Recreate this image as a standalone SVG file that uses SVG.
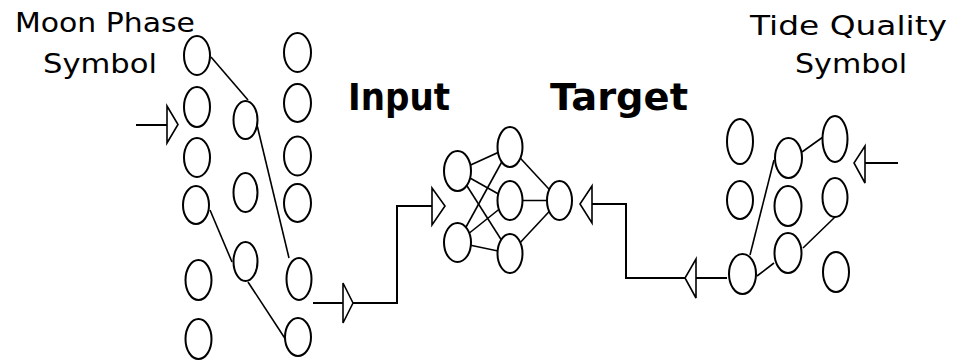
<svg xmlns="http://www.w3.org/2000/svg" width="954" height="362" viewBox="0 0 954 362">
<style>
.n{fill:#fff;stroke:#000;stroke-width:2}
.c{fill:none;stroke:#000;stroke-width:1.6}
.w{fill:none;stroke:#000;stroke-width:2}
.t{fill:#fff;stroke:#000;stroke-width:1.6}
.lbl{font-family:"DejaVu Sans","Liberation Sans",sans-serif;font-size:27px;fill:#000}
.big{font-family:"DejaVu Sans","Liberation Sans",sans-serif;font-size:37px;font-weight:bold;fill:#000}
</style>
<rect width="954" height="362" fill="#fff"/>
<g id="labels">
<text class="lbl" x="15" y="32" textLength="180" lengthAdjust="spacingAndGlyphs">Moon Phase</text>
<text class="lbl" x="43" y="73" textLength="114" lengthAdjust="spacingAndGlyphs">Symbol</text>
<text class="lbl" x="750" y="35" textLength="197" lengthAdjust="spacingAndGlyphs">Tide Quality</text>
<text class="lbl" x="795" y="73" textLength="112" lengthAdjust="spacingAndGlyphs">Symbol</text>
<text class="big" x="348" y="110" textLength="102" lengthAdjust="spacingAndGlyphs">Input</text>
<text class="big" x="550" y="110" textLength="138" lengthAdjust="spacingAndGlyphs">Target</text>
</g>
<g id="connectors">
<line class="c" x1="211" y1="57" x2="248" y2="100"/>
<line class="c" x1="257" y1="125" x2="289" y2="258"/>
<line class="c" x1="210" y1="210" x2="232" y2="262"/>
<line class="c" x1="248" y1="282" x2="286" y2="340"/>
<line class="c" x1="457.5" y1="171" x2="510" y2="147"/>
<line class="c" x1="457.5" y1="171" x2="510" y2="200.5"/>
<line class="c" x1="457.5" y1="171" x2="510" y2="253.5"/>
<line class="c" x1="457.5" y1="242.5" x2="510" y2="147"/>
<line class="c" x1="457.5" y1="242.5" x2="510" y2="200.5"/>
<line class="c" x1="457.5" y1="242.5" x2="510" y2="253.5"/>
<line class="c" x1="510" y1="147" x2="559.5" y2="200.5"/>
<line class="c" x1="510" y1="200.5" x2="559.5" y2="200.5"/>
<line class="c" x1="510" y1="253.5" x2="559.5" y2="200.5"/>
<line class="c" x1="802" y1="152" x2="823" y2="137"/>
<line class="c" x1="750" y1="255" x2="774" y2="160"/>
<line class="c" x1="757" y1="276" x2="774" y2="263"/>
<line class="c" x1="803" y1="248" x2="835" y2="217"/>
<polyline class="w" points="136,125 167,125"/>
<polyline class="w" points="313,303 343,303"/>
<polyline class="w" points="353,303 397,303 397,206 432,206"/>
<polyline class="w" points="592,204 626,204 626,278 685,278"/>
<polyline class="w" points="696,278 727,278"/>
<polyline class="w" points="865,163 898,163"/>
<polygon class="t" points="167,106 167,143 178,124.5"/>
<polygon class="t" points="343,283 343,323 353,303"/>
<polygon class="t" points="432,188 432,225 445,206"/>
<polygon class="t" points="592,186 592,223 580,204"/>
<polygon class="t" points="696,259 696,298 685,278"/>
<polygon class="t" points="865,146 865,183 854,163"/>
</g>
<g id="moon-col-a">
<ellipse id="a1" class="n" cx="197" cy="55.5" rx="13" ry="19.5"/>
<ellipse id="a2" class="n" cx="197" cy="107" rx="13" ry="20"/>
<ellipse id="a3" class="n" cx="197" cy="157.5" rx="13" ry="19.5"/>
<ellipse id="a4" class="n" cx="196" cy="205" rx="13" ry="19"/>
<ellipse id="a5" class="n" cx="198.5" cy="280" rx="13" ry="20"/>
<ellipse id="a6" class="n" cx="198.5" cy="339" rx="13" ry="20"/>
</g>
<g id="moon-col-b">
<ellipse id="b1" class="n" cx="245.5" cy="120" rx="12" ry="19"/>
<ellipse id="b2" class="n" cx="245.5" cy="192.5" rx="12" ry="19.5"/>
<ellipse id="b3" class="n" cx="245.5" cy="261.5" rx="12" ry="19.5"/>
</g>
<g id="moon-col-c">
<ellipse id="c1" class="n" cx="297.5" cy="52.5" rx="13.5" ry="19.5"/>
<ellipse id="c2" class="n" cx="297.5" cy="103" rx="13.5" ry="19"/>
<ellipse id="c3" class="n" cx="297.5" cy="156" rx="13.5" ry="19.5"/>
<ellipse id="c4" class="n" cx="297.5" cy="203" rx="13.5" ry="19"/>
<ellipse id="c5" class="n" cx="299" cy="279" rx="12.5" ry="21"/>
<ellipse id="c6" class="n" cx="298" cy="337" rx="13" ry="19"/>
</g>
<g id="net-input">
<ellipse id="i1" class="n" cx="457.5" cy="171" rx="13.5" ry="20"/>
<ellipse id="i2" class="n" cx="457.5" cy="242.5" rx="13.5" ry="19.5"/>
</g>
<g id="net-hidden">
<ellipse id="h1" class="n" cx="510" cy="147" rx="12.5" ry="20"/>
<ellipse id="h2" class="n" cx="510" cy="200.5" rx="12.5" ry="19.5"/>
<ellipse id="h3" class="n" cx="510" cy="253.5" rx="12.5" ry="19.5"/>
</g>
<g id="net-output">
<ellipse id="o1" class="n" cx="559.5" cy="200.5" rx="12.5" ry="19.5"/>
</g>
<g id="tide-col-1">
<ellipse id="r11" class="n" cx="740" cy="141.5" rx="13" ry="22.5"/>
<ellipse id="r12" class="n" cx="740" cy="200" rx="13" ry="19"/>
<ellipse id="r13" class="n" cx="742.5" cy="274" rx="13.5" ry="20"/>
</g>
<g id="tide-col-2">
<ellipse id="r21" class="n" cx="788.5" cy="158" rx="13.5" ry="20"/>
<ellipse id="r22" class="n" cx="788" cy="206" rx="13.5" ry="20"/>
<ellipse id="r23" class="n" cx="788" cy="253" rx="13.5" ry="20"/>
</g>
<g id="tide-col-3">
<ellipse id="r31" class="n" cx="835" cy="139" rx="12.5" ry="23"/>
<ellipse id="r32" class="n" cx="835" cy="197.5" rx="12.5" ry="19.5"/>
<ellipse id="r33" class="n" cx="836" cy="272" rx="13" ry="20"/>
</g>
</svg>
